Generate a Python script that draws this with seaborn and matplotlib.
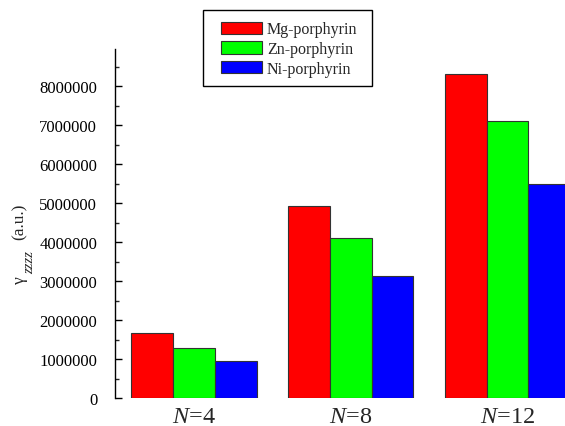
import pandas as pd
import seaborn as sns
import matplotlib
matplotlib.use('Agg')
import matplotlib.pyplot as plt
from matplotlib.ticker import MultipleLocator, FuncFormatter
from matplotlib.patches import Rectangle

groups = ['$N$=4', '$N$=8', '$N$=12']
mg = [1670000, 4920000, 8300000]
zn = [1280000, 4100000, 7100000]
ni = [960000, 3140000, 5480000]
series = ['Mg-porphyrin', 'Zn-porphyrin', 'Ni-porphyrin']
colors = ['#ff0000', '#00ff00', '#0000ff']

rows = []
for name, vals in zip(series, [mg, zn, ni]):
    for g, v in zip(groups, vals):
        rows.append({'N': g, 'porphyrin': name, 'gamma': v})
df = pd.DataFrame(rows)

sns.set_style('ticks')
plt.rcParams['font.family'] = ['Liberation Serif', 'DejaVu Serif']
plt.rcParams['mathtext.fontset'] = 'custom'
plt.rcParams['mathtext.rm'] = 'Liberation Serif'
plt.rcParams['mathtext.it'] = 'Liberation Serif:italic'

W, H = 565, 427
fig = plt.figure(figsize=(W / 100, H / 100), dpi=100)
ax = fig.add_axes([115.3 / W, 1 - 399 / H, (586 - 115.3) / W, 349 / H])

sns.barplot(data=df, x='N', y='gamma', hue='porphyrin', order=groups,
            hue_order=series, palette=colors, saturation=1, width=0.8,
            edgecolor='#333333', linewidth=0.8, ax=ax)

ax.set_xlim(-0.5, 2.5)
ax.set_ylim(0, 8950000)
ax.yaxis.set_major_locator(MultipleLocator(1000000))
ax.yaxis.set_minor_locator(MultipleLocator(500000))
ax.yaxis.set_major_formatter(FuncFormatter(lambda v, p: f'{int(v)}'))

for s in ['top', 'right', 'bottom']:
    ax.spines[s].set_visible(False)
ax.spines['left'].set_linewidth(1.0)
ax.spines['left'].set_color('black')

ax.tick_params(axis='y', which='major', direction='in', length=5, width=1,
               labelsize=12, pad=13, colors='black')
ax.tick_params(axis='y', which='minor', direction='in', length=2.7, width=1)
ax.tick_params(axis='x', length=0, labelsize=17.5, pad=6)

ax.set_xlabel('')
ax.set_ylabel('')

# y label built from pieces so the subscript keeps its size
fig.text(20 / W, 1 - 280 / H, 'γ', rotation=90, ha='center', va='center', fontsize=12.5)
fig.text(29.5 / W, 1 - 262 / H, 'zzzz', rotation=90, ha='center', va='center',
         fontsize=10.5, style='italic')
fig.text(20 / W, 1 - 222 / H, '(a.u.)', rotation=90, ha='center', va='center', fontsize=12.5)

ax.legend_.remove()
handles, labels = ax.get_legend_handles_labels()
leg = fig.legend(handles, labels, loc='upper left',
                 bbox_to_anchor=(220.7 / W, 1 - 22.5 / H),
                 bbox_transform=fig.transFigure, borderaxespad=0,
                 fontsize=11.5, frameon=False,
                 handlelength=2.6, handleheight=0.85, handletextpad=0.3,
                 labelspacing=0.22, borderpad=0)
fig.patches.append(Rectangle((203 / W, 1 - 87 / H), 169 / W, 76 / H,
                             transform=fig.transFigure, fill=False,
                             edgecolor='black', linewidth=1.0))

fig.savefig('out.png', dpi=100)
